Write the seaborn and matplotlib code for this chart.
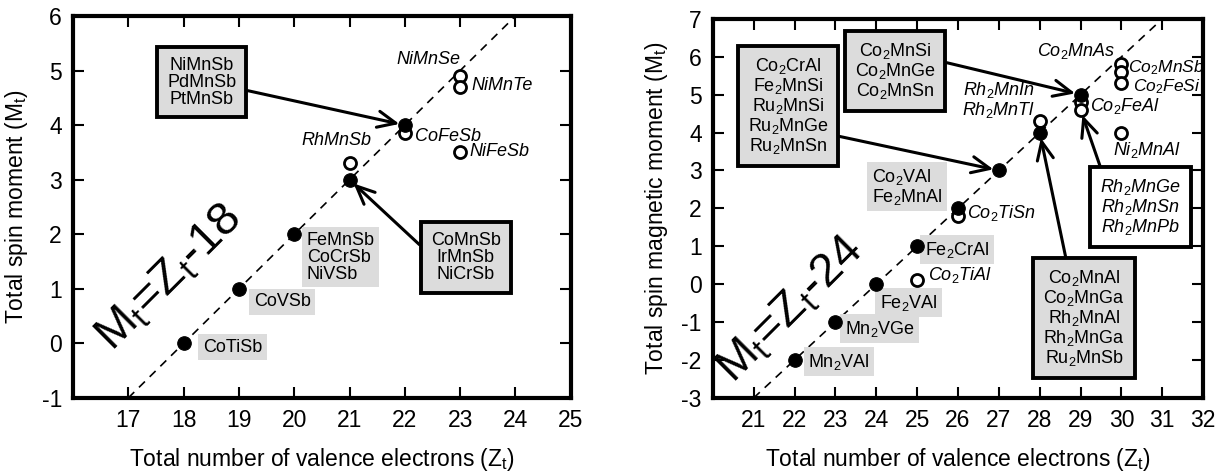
import numpy as np
import pandas as pd
import seaborn as sns
import matplotlib.pyplot as plt

sns.set_style('ticks')
plt.rcParams['font.family'] = ['Liberation Sans', 'DejaVu Sans']
plt.rcParams['mathtext.fontset'] = 'custom'
plt.rcParams['mathtext.rm'] = 'Liberation Sans'
plt.rcParams['mathtext.it'] = 'Liberation Sans:italic'
plt.rcParams['mathtext.bf'] = 'Liberation Sans:bold'
plt.rcParams['axes.unicode_minus'] = False
for key in ['text.color', 'axes.labelcolor', 'xtick.color', 'ytick.color',
            'axes.edgecolor']:
    plt.rcParams[key] = 'black'

# ---- half-Heusler (left panel) ----
hh_filled_z = [18, 19, 20, 21, 22]
hh_filled_m = [0, 1, 2, 3, 4]
hh_open_z = [21, 22, 23, 23, 23]
hh_open_m = [3.3, 3.85, 4.9, 4.7, 3.5]
hh_line_z = [17, 24]

# ---- full-Heusler (right panel) ----
fh_filled_z = [22, 23, 24, 25, 26, 27, 28, 29]
fh_filled_m = [-2, -1, 0, 1, 2, 3, 4, 5]
fh_open_z = [25, 26, 28, 29, 29, 30, 30, 30, 30]
fh_open_m = [0.1, 1.8, 4.3, 4.8, 4.6, 5.8, 5.6, 5.3, 4.0]
fh_line_z = [21, 31]

GRAY = '#dcdcdc'
BOX = dict(boxstyle='square,pad=0.55', fc=GRAY, ec='black', lw=2.8)
SHADE = dict(boxstyle='square,pad=0.25', fc=GRAY, ec='none')
LBL = 13

fig = plt.figure(figsize=(12.29, 4.72), dpi=100)
ax1 = fig.add_axes([0.0594, 0.157, 0.405, 0.809])
ax2 = fig.add_axes([0.580, 0.157, 0.399, 0.803])


def draw_points(ax, fz, fm, oz, om, lz, offset):
    line = pd.DataFrame({'Z': lz, 'M': np.array(lz) - offset})
    sns.lineplot(data=line, x='Z', y='M', ax=ax, color='black', lw=1.2,
                 linestyle=(0, (5, 4)))
    filled = pd.DataFrame({'Z': fz, 'M': fm})
    sns.scatterplot(data=filled, x='Z', y='M', ax=ax, s=95, color='black',
                    edgecolor='black', zorder=5)
    hollow = pd.DataFrame({'Z': oz, 'M': om})
    sns.scatterplot(data=hollow, x='Z', y='M', ax=ax, s=75, facecolor='white',
                    edgecolor='black', linewidth=2, zorder=4)


def style_axes(ax, xlim, ylim, xticks, yticks, ylabel):
    ax.set_xlim(*xlim)
    ax.set_ylim(*ylim)
    ax.set_xticks(xticks)
    ax.set_yticks(yticks)
    ax.tick_params(direction='in', length=8, width=1.5, top=True, right=True,
                   labelsize=16.5, pad=8)
    for sp in ax.spines.values():
        sp.set_visible(True)
        sp.set_linewidth(3)
    ax.set_xlabel(r'Total number of valence electrons (Z$_\mathrm{t}$)',
                  fontsize=16.5, labelpad=10)
    ax.set_ylabel(ylabel, fontsize=16.5, labelpad=8)


def arrow(ax, s, xy, xytext, relpos, style='normal', fc=GRAY):
    bb = dict(BOX)
    bb['fc'] = fc
    ax.annotate(s, xy=xy, xytext=xytext, ha='center', va='center',
                fontsize=LBL, fontstyle=style, linespacing=1.0, bbox=bb,
                zorder=6,
                arrowprops=dict(arrowstyle='->,head_length=1.0,head_width=0.45',
                                lw=2.2, color='black', relpos=relpos,
                                shrinkA=0, shrinkB=4))


# ---------------- left panel ----------------
draw_points(ax1, hh_filled_z, hh_filled_m, hh_open_z, hh_open_m, hh_line_z, 18)
style_axes(ax1, (16, 25), (-1, 6), range(17, 26), range(-1, 7),
           r'Total spin moment (M$_\mathrm{t}$)')

ax1.text(18.35, -0.07, 'CoTiSb', fontsize=LBL, va='center', bbox=SHADE)
ax1.text(19.27, 0.76, 'CoVSb', fontsize=LBL, va='center', bbox=SHADE)
ax1.text(20.23, 1.58, 'FeMnSb\nCoCrSb\nNiVSb', fontsize=LBL, va='center',
         linespacing=1.0, bbox=SHADE)
ax1.text(20.77, 3.71, 'RhMnSb', fontsize=LBL, style='italic', ha='center',
         va='center')
ax1.text(22.18, 3.8, 'CoFeSb', fontsize=LBL, style='italic', va='center')
ax1.text(23.0, 5.21, 'NiMnSe', fontsize=LBL, style='italic', ha='right',
         va='center')
ax1.text(23.21, 4.72, 'NiMnTe', fontsize=LBL, style='italic', va='center')
ax1.text(23.16, 3.51, 'NiFeSb', fontsize=LBL, style='italic', va='center')

arrow(ax1, 'NiMnSb\nPdMnSb\nPtMnSb', (22, 4), (18.33, 4.79), (1, 0.38))
arrow(ax1, 'CoMnSb\nIrMnSb\nNiCrSb', (21, 3), (23.10, 1.57), (0, 0.55))

ax1.text(17.75, 1.2, r'M$_\mathrm{t}$=Z$_\mathrm{t}$-18', fontsize=34,
         rotation=45, ha='center', va='center')

# ---------------- right panel ----------------
draw_points(ax2, fh_filled_z, fh_filled_m, fh_open_z, fh_open_m, fh_line_z, 24)
style_axes(ax2, (20, 32), (-3, 7), range(21, 33), range(-3, 8),
           r'Total spin magnetic moment (M$_\mathrm{t}$)')

ax2.text(22.33, -2.05, r'Mn$_2$VAl', fontsize=LBL, va='center', bbox=SHADE)
ax2.text(23.23, -1.18, r'Mn$_2$VGe', fontsize=LBL, va='center', bbox=SHADE)
ax2.text(24.09, -0.49, r'Fe$_2$VAl', fontsize=LBL, va='center', bbox=SHADE)
ax2.text(25.19, 0.905, r'Fe$_2$CrAl', fontsize=LBL, va='center', bbox=SHADE)
ax2.text(23.89, 2.57, 'Co$_2$VAl\nFe$_2$MnAl', fontsize=LBL, va='center',
         linespacing=1.0, bbox=SHADE)

ax2.text(25.27, 0.25, r'Co$_2$TiAl', fontsize=LBL, style='italic', va='center')
ax2.text(26.22, 1.88, r'Co$_2$TiSn', fontsize=LBL, style='italic', va='center')
ax2.text(27.89, 4.86, 'Rh$_2$MnIn\nRh$_2$MnTl', fontsize=LBL, style='italic',
         ha='right', va='center', linespacing=1.0)
ax2.text(29.85, 6.16, r'Co$_2$MnAs', fontsize=LBL, style='italic', ha='right',
         va='center')
ax2.text(30.16, 5.72, r'Co$_2$MnSb', fontsize=12.5, style='italic', va='center')
ax2.text(30.29, 5.2, r'Co$_2$FeSi', fontsize=12.5, style='italic', va='center')
ax2.text(29.23, 4.70, r'Co$_2$FeAl', fontsize=LBL, style='italic', va='center')
ax2.text(29.8, 3.54, r'Ni$_2$MnAl', fontsize=LBL, style='italic', va='center')

arrow(ax2, 'Co$_2$CrAl\nFe$_2$MnSi\nRu$_2$MnSi\nRu$_2$MnGe\nRu$_2$MnSn',
      (27, 3), (21.84, 4.70), (1, 0.22))
arrow(ax2, 'Co$_2$MnSi\nCo$_2$MnGe\nCo$_2$MnSn', (29, 5), (24.46, 5.63),
      (1, 0.68))
arrow(ax2, 'Rh$_2$MnGe\nRh$_2$MnSn\nRh$_2$MnPb', (29, 4.6), (30.46, 2.04),
      (0.05, 1), style='italic', fc='white')
arrow(ax2, 'Co$_2$MnAl\nCo$_2$MnGa\nRh$_2$MnAl\nRh$_2$MnGa\nRu$_2$MnSb',
      (28, 4), (29.09, -0.89), (0.3, 1))

ax2.text(21.9, -0.68, r'M$_\mathrm{t}$=Z$_\mathrm{t}$-24', fontsize=34,
         rotation=45, ha='center', va='center')

fig.savefig('out.png', dpi=100)
